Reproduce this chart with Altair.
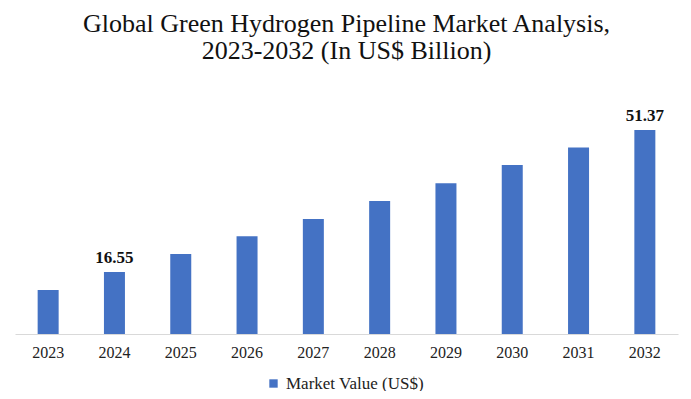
import altair as alt
import pandas as pd

years = ["2023", "2024", "2025", "2026", "2027", "2028", "2029", "2030", "2031", "2032"]
values = [12.14, 16.55, 20.97, 25.3, 29.55, 33.96, 38.3, 42.79, 47.08, 51.37]
label_years = ["2024", "2032"]
series_name = "Market Value (US$)"

df = pd.DataFrame({"year": years, "value": values, "series": series_name})
df["label"] = [f"{v:.2f}" if y in label_years else "" for y, v in zip(years, values)]

W, H = 663, 234
FONT = "Liberation Serif"
YMIN, YMAX = 1.35, 58.73

base = alt.Chart(df)

bars = base.mark_bar(size=21, color="#4472C4").encode(
    x=alt.X("year:N", sort=years, title=None,
            axis=alt.Axis(labelAngle=0, ticks=False, domainColor="#d9d9d9",
                          labelFont=FONT, labelFontSize=16, labelColor="#222222",
                          labelPadding=10)),
    y=alt.Y("value:Q", scale=alt.Scale(domain=[YMIN, YMAX], nice=False, zero=False),
            axis=None),
    y2=alt.datum(YMIN),
    color=alt.Color("series:N", scale=alt.Scale(range=["#4472C4"]),
                    legend=alt.Legend(title=None, orient="none", legendX=250, legendY=275,
                                      symbolType="square", symbolSize=70,
                                      labelFont=FONT, labelFontSize=17,
                                      labelColor="#222222")),
)

text = base.mark_text(dy=-14, font=FONT, fontSize=17, fontWeight="bold",
                      color="#111111").encode(
    x=alt.X("year:N", sort=years),
    y=alt.Y("value:Q"),
    text="label:N",
)

chart = (bars + text).properties(
    width=W, height=H,
    autosize=alt.AutoSizeParams(type="none"),
    padding={"left": 7, "top": 92, "right": 5, "bottom": 57},
    title=alt.Title(["Global Green Hydrogen Pipeline Market Analysis,",
                     "2023-2032 (In US$ Billion)"],
                    font=FONT, fontSize=26, fontWeight="normal", color="#111111",
                    anchor="middle", offset=36, lineHeight=27),
).configure_view(stroke=None)

chart.save("out.html", embed_options={"renderer": "svg", "actions": False})
